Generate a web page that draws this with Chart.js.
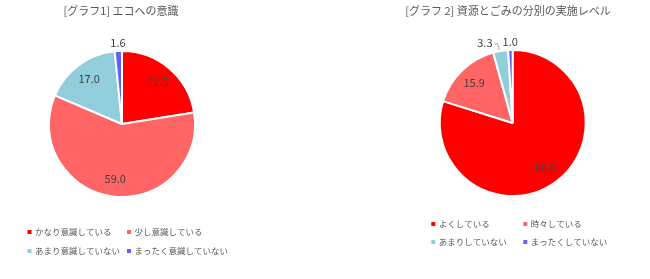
<!DOCTYPE html>
<html><head><meta charset="utf-8">
<script src="https://cdn.jsdelivr.net/npm/chart.js@4"></script>
<style>
html,body{margin:0;padding:0;background:#fff;width:650px;height:279px;overflow:hidden}
.box{position:absolute;top:0;width:325px;height:279px}
#b1{left:0}#b2{left:325px}
</style></head><body>
<div class="box" id="b1"><canvas id="c1"></canvas></div>
<div class="box" id="b2"><canvas id="c2"></canvas></div>
<script>
// ---- data ----
const title1 = '[グラフ1] エコへの意識';
const categories1 = ['かなり意識している', '少し意識している', 'あまり意識していない', 'まったく意識していない'];
const values1 = [22.5, 59.0, 17.0, 1.6];

const title2 = '[グラフ 2] 資源とごみの分別の実施レベル';
const categories2 = ['よくしている', '時々している', 'あまりしていない', 'まったくしていない'];
const values2 = [80.0, 15.9, 3.3, 1.0];

const colors = ['#FF0000', '#FF6565', '#92CDDC', '#6060FF'];

const FONT = "'Noto Sans CJK JP', 'Noto Sans', sans-serif";

const decor = {
  id: 'decor',
  afterDatasetsDraw(chart, args, o) {
    const ctx = chart.ctx;
    const meta = chart.getDatasetMeta(0);
    const ds = chart.data.datasets[0];
    const total = ds.data.reduce((a, b) => a + b, 0);
    ctx.save();
    ctx.font = `11px ${FONT}`;
    ctx.textAlign = 'center';
    ctx.textBaseline = 'middle';
    const outside = [];
    meta.data.forEach((arc, i) => {
      const p = arc.getProps(['x', 'y', 'startAngle', 'endAngle', 'outerRadius'], true);
      const mid = (p.startAngle + p.endAngle) / 2;
      const txt = ds.data[i].toFixed(1);
      if (ds.data[i] / total >= 0.05) {
        const r = p.outerRadius * 0.76;
        ctx.fillStyle = '#404040';
        ctx.fillText(txt, p.x + Math.cos(mid) * r, p.y + Math.sin(mid) * r);
      } else {
        const r = p.outerRadius + 8;
        const w = ctx.measureText(txt).width;
        outside.push({txt, w, x: p.x + Math.cos(mid) * r, y: p.y + Math.sin(mid) * r,
          ex: p.x + Math.cos(mid) * (p.outerRadius + 1), ey: p.y + Math.sin(mid) * (p.outerRadius + 1), shifted: false});
      }
    });
    // resolve overlaps by pushing earlier (left) labels to the left
    outside.sort((a, b) => a.x - b.x);
    for (let k = outside.length - 2; k >= 0; k--) {
      const a = outside[k], b = outside[k + 1];
      const need = (b.x - b.w / 2) - 10 - (a.x + a.w / 2);
      if (need < 0 && Math.abs(a.y - b.y) < 12) { a.x += need; a.shifted = true; }
    }
    outside.forEach(l => {
      ctx.fillStyle = '#404040';
      ctx.fillText(l.txt, l.x, l.y);
      if (l.shifted) {
        ctx.strokeStyle = '#A6A6A6';
        ctx.lineWidth = 1;
        ctx.beginPath();
        ctx.moveTo(l.x + l.w / 2 + 2, l.y + 0.5);
        ctx.lineTo(l.ex - 3, l.y + 0.5);
        ctx.lineTo(l.ex - 1, l.ey);
        ctx.stroke();
      }
    });
    // title
    ctx.fillStyle = '#595959';
    ctx.font = `11px ${FONT}`;
    ctx.fillText(o.title, o.titleX, o.titleY);
    // legend
    ctx.font = `8.5px ${FONT}`;
    ctx.textAlign = 'left';
    chart.data.labels.forEach((lab, i) => {
      const cx = o.cols[i % 2], cy = o.rows[Math.floor(i / 2)];
      ctx.fillStyle = ds.backgroundColor[i];
      ctx.fillRect(cx - 2, cy - 2, 4, 4);
      ctx.fillStyle = '#595959';
      ctx.fillText(lab, cx + 5.5, cy);
    });
    ctx.restore();
  }
};

function makePie(id, labels, values, title, pad, deco) {
  new Chart(document.getElementById(id), {
    type: 'pie',
    data: {
      labels: labels,
      datasets: [{
        data: values,
        backgroundColor: colors,
        borderColor: '#FFFFFF',
        borderWidth: 2,
        hoverOffset: 0
      }]
    },
    options: {
      responsive: true,
      maintainAspectRatio: false,
      animation: false,
      radius: 73,
      layout: {padding: pad},
      events: [],
      plugins: {
        legend: {display: false},
        title: {display: false},
        tooltip: {enabled: false},
        decor: Object.assign({title: title}, deco)
      }
    },
    plugins: [decor]
  });
}

makePie('c1', categories1, values1, title1,
  {left: 40, right: 121, top: 40, bottom: 71},
  {titleX: 121, titleY: 11, cols: [29.5, 129], rows: [232, 251]});
makePie('c2', categories2, values2, title2,
  {left: 100, right: 49.6, top: 40, bottom: 73},
  {titleX: 183, titleY: 11, cols: [108.3, 200.3], rows: [224, 242]});
</script>
</body></html>
